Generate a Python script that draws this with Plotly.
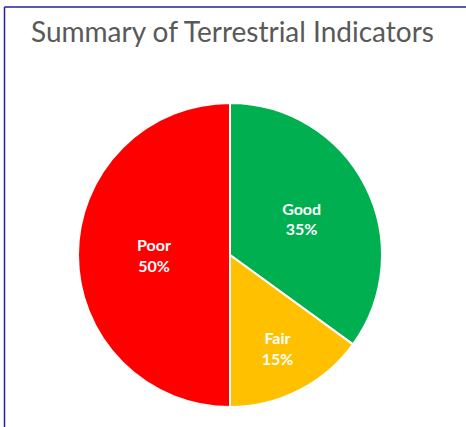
import plotly.graph_objects as go

categories = ["Good", "Fair", "Poor"]
values = [35, 15, 50]
colors = ["#00B050", "#FFC000", "#FF0000"]
title_text = "Summary of Terrestrial Indicators"

W, H = 466, 427

fig = go.Figure(go.Pie(
    labels=categories,
    values=values,
    sort=False,
    direction="clockwise",
    rotation=0,
    marker=dict(colors=colors, line=dict(color="white", width=2)),
    texttemplate="<b>%{label}</b><br><b>%{percent:.0%}</b>",
    textposition="inside",
    insidetextorientation="horizontal",
    textfont=dict(color="white", size=16, family="Lato"),
    showlegend=False,
    hoverinfo="skip",
    domain=dict(x=[78 / W, 382 / W], y=[1 - 407 / H, 1 - 103 / H]),
))

fig.add_annotation(
    text=title_text, xref="paper", yref="paper",
    x=29 / W, y=1 - 12 / H, xanchor="left", yanchor="top",
    showarrow=False, font=dict(family="Lato", size=28, color="#595959"),
)

border = "#2020A0"
fig.add_shape(type="line", xref="paper", yref="paper",
              x0=4.5 / W, x1=1.01, y0=1 - 7 / H, y1=1 - 7 / H,
              line=dict(color=border, width=1.5))
fig.add_shape(type="line", xref="paper", yref="paper",
              x0=4.5 / W, x1=4.5 / W, y0=1 - 7 / H, y1=-0.01,
              line=dict(color=border, width=1.5))

fig.update_layout(
    width=W, height=H,
    margin=dict(l=0, r=0, t=0, b=0),
    paper_bgcolor="white", plot_bgcolor="white",
)

fig.write_html("out.html", config={"displayModeBar": False},
               post_script="document.body.style.margin='0';")
